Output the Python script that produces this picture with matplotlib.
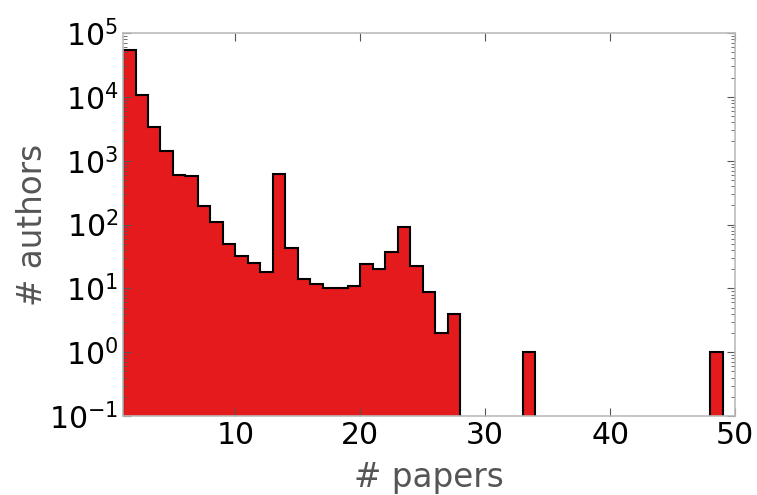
import numpy as np
import matplotlib
matplotlib.use('Agg')
import matplotlib.pyplot as plt

# número de autores por cantidad de papers (bins de ancho 1, desde 1 hasta 50)
papers = np.arange(1, 50)
authors = np.zeros(49)
authors[:27] = [54000, 10700, 3400, 1420, 600, 570, 195, 110, 50, 32,
                24.5, 17.8, 610, 43.5, 13.8, 11.7, 10, 10, 11, 23.7,
                20, 36.5, 90, 22.5, 8.8, 2, 3.9]
authors[32] = 1   # 33 papers
authors[47] = 1   # 48 papers
edges = np.arange(1, 51)

fig = plt.figure(figsize=(7.57, 4.95), dpi=100)
ax = fig.add_axes([0.1625, 0.1596, 0.8085, 0.7737])

ax.hist(papers, bins=edges, weights=authors, histtype='stepfilled',
        facecolor='#e41a1c', edgecolor='black', linewidth=1.5, log=True)

ax.set_xlim(1, 50)
ax.set_ylim(0.1, 1e5)
ax.set_xticks([10, 20, 30, 40, 50])

for s in ax.spines.values():
    s.set_color('#bbbbbb')
    s.set_linewidth(1.2)

ax.tick_params(which='both', direction='in', top=True, right=True,
               labelsize=21.5, color='#555555')
ax.tick_params(which='major', length=6)
ax.tick_params(which='minor', length=3)

ax.set_xlabel('# papers', fontsize=23.5, color='#555555', labelpad=8)
ax.set_ylabel('# authors', fontsize=23.5, color='#555555', labelpad=0)

fig.savefig('out.png', dpi=100)
plt.close('all')
